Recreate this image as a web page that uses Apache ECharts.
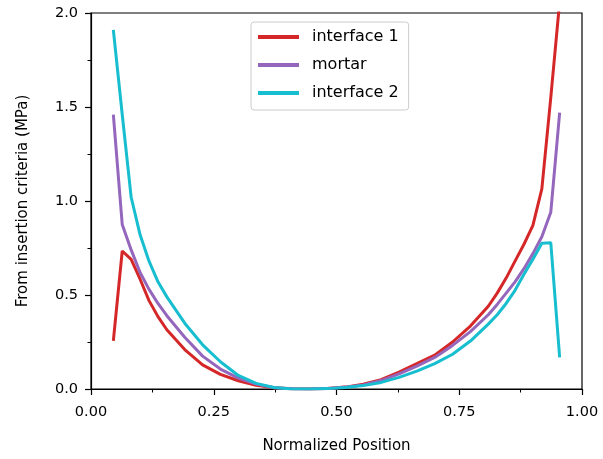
<!DOCTYPE html>
<html>
<head>
<meta charset="utf-8">
<script src="https://cdn.jsdelivr.net/npm/echarts@6/dist/echarts.min.js"></script>
<style>
  html, body { margin: 0; padding: 0; background: #fff; }
  #chart { width: 603px; height: 459px; }
</style>
</head>
<body>
<div id="chart"></div>
<script>
// sample positions along the joint
var positions = [0.0455, 0.0636, 0.0818, 0.1000, 0.1182, 0.1364, 0.1545, 0.1909, 0.2273, 0.2636,
  0.3000, 0.3364, 0.3727, 0.4091, 0.4455, 0.4818, 0.5182, 0.5545, 0.5909, 0.6273,
  0.6636, 0.7000, 0.7364, 0.7727, 0.8091, 0.8273, 0.8455, 0.8636, 0.8818, 0.9000,
  0.9182, 0.9364, 0.9545];

var interface1 = [0.256, 0.734, 0.69, 0.584, 0.47, 0.385, 0.315, 0.21, 0.128, 0.078,
  0.044, 0.02, 0.007, 0.001, 0.0, 0.003, 0.01, 0.025, 0.05, 0.09,
  0.135, 0.18, 0.25, 0.335, 0.44, 0.51, 0.59, 0.68, 0.77, 0.87,
  1.065, 1.55, 2.06];

var mortar = [1.46, 0.875, 0.74, 0.62, 0.53, 0.455, 0.39, 0.275, 0.175, 0.106,
  0.058, 0.026, 0.007, 0.001, 0.0, 0.003, 0.01, 0.022, 0.045, 0.08,
  0.122, 0.168, 0.232, 0.305, 0.395, 0.45, 0.51, 0.57, 0.64, 0.72,
  0.81, 0.94, 1.47];

var interface2 = [1.91, 1.46, 1.02, 0.82, 0.68, 0.57, 0.49, 0.35, 0.235, 0.145,
  0.072, 0.03, 0.008, 0.0, 0.0, 0.002, 0.008, 0.018, 0.035, 0.062,
  0.095, 0.135, 0.185, 0.255, 0.345, 0.395, 0.455, 0.525, 0.61, 0.69,
  0.775, 0.778, 0.168];

var xTicks = [0, 0.25, 0.5, 0.75, 1];
var yTicks = [0, 0.5, 1.0, 1.5, 2.0];

function pairs(vals) {
  return positions.map(function (x, i) { return [x, vals[i]]; });
}

var chart = echarts.init(document.getElementById('chart'));
var font = 'DejaVu Sans';

var option = {
  animation: false,
  textStyle: { fontFamily: font },
  grid: {
    left: 91, right: 21, top: 13, bottom: 69,
    show: true, borderColor: '#000', borderWidth: 1.2, backgroundColor: 'transparent'
  },
  legend: {
    orient: 'vertical',
    left: 251, top: 22,
    padding: [6, 10, 8, 7],
    icon: 'rect',
    itemWidth: 41, itemHeight: 4, itemGap: 10,
    borderColor: '#cccccc', borderWidth: 1, borderRadius: 3,
    backgroundColor: 'rgba(255,255,255,0.8)',
    textStyle: { fontSize: 16, color: '#000', fontFamily: font, lineHeight: 18, padding: [0, 0, 0, 8] },
    data: ['interface 1', 'mortar', 'interface 2']
  },
  xAxis: {
    type: 'value',
    min: xTicks[0], max: xTicks[xTicks.length - 1], interval: 0.25,
    name: 'Normalized Position',
    nameLocation: 'middle', nameGap: 50,
    nameTextStyle: { fontSize: 15, color: '#000', fontFamily: font },
    axisLine: { lineStyle: { color: '#000', width: 1.2 } },
    axisTick: { length: 6, lineStyle: { color: '#000', width: 1.2 } },
    minorTick: { show: true, splitNumber: 2, length: 3.5, lineStyle: { color: '#000', width: 1 } },
    splitLine: { show: false },
    axisLabel: {
      fontSize: 14.5, color: '#000', margin: 16, fontFamily: font,
      formatter: function (v) { return v.toFixed(2); }
    }
  },
  yAxis: {
    type: 'value',
    min: yTicks[0], max: yTicks[yTicks.length - 1], interval: 0.5,
    name: 'From insertion criteria (MPa)',
    nameLocation: 'middle', nameGap: 60,
    nameTextStyle: { fontSize: 15, color: '#000', fontFamily: font },
    axisLine: { show: true, lineStyle: { color: '#000', width: 1.2 } },
    axisTick: { show: true, length: 6, lineStyle: { color: '#000', width: 1.2 } },
    minorTick: { show: true, splitNumber: 2, length: 3.5, lineStyle: { color: '#000', width: 1 } },
    splitLine: { show: false },
    axisLabel: {
      fontSize: 14.5, color: '#000', margin: 13, fontFamily: font,
      formatter: function (v) { return v.toFixed(1); }
    }
  },
  series: [
    {
      name: 'interface 1', type: 'line', symbol: 'none', clip: true,
      lineStyle: { color: '#d62728', width: 3 }, itemStyle: { color: '#d62728' },
      data: pairs(interface1)
    },
    {
      name: 'mortar', type: 'line', symbol: 'none', clip: true,
      lineStyle: { color: '#9467bd', width: 3 }, itemStyle: { color: '#9467bd' },
      data: pairs(mortar)
    },
    {
      name: 'interface 2', type: 'line', symbol: 'none', clip: true,
      lineStyle: { color: '#17becf', width: 3 }, itemStyle: { color: '#17becf' },
      data: pairs(interface2)
    }
  ]
};

option && chart.setOption(option);
</script>
</body>
</html>
